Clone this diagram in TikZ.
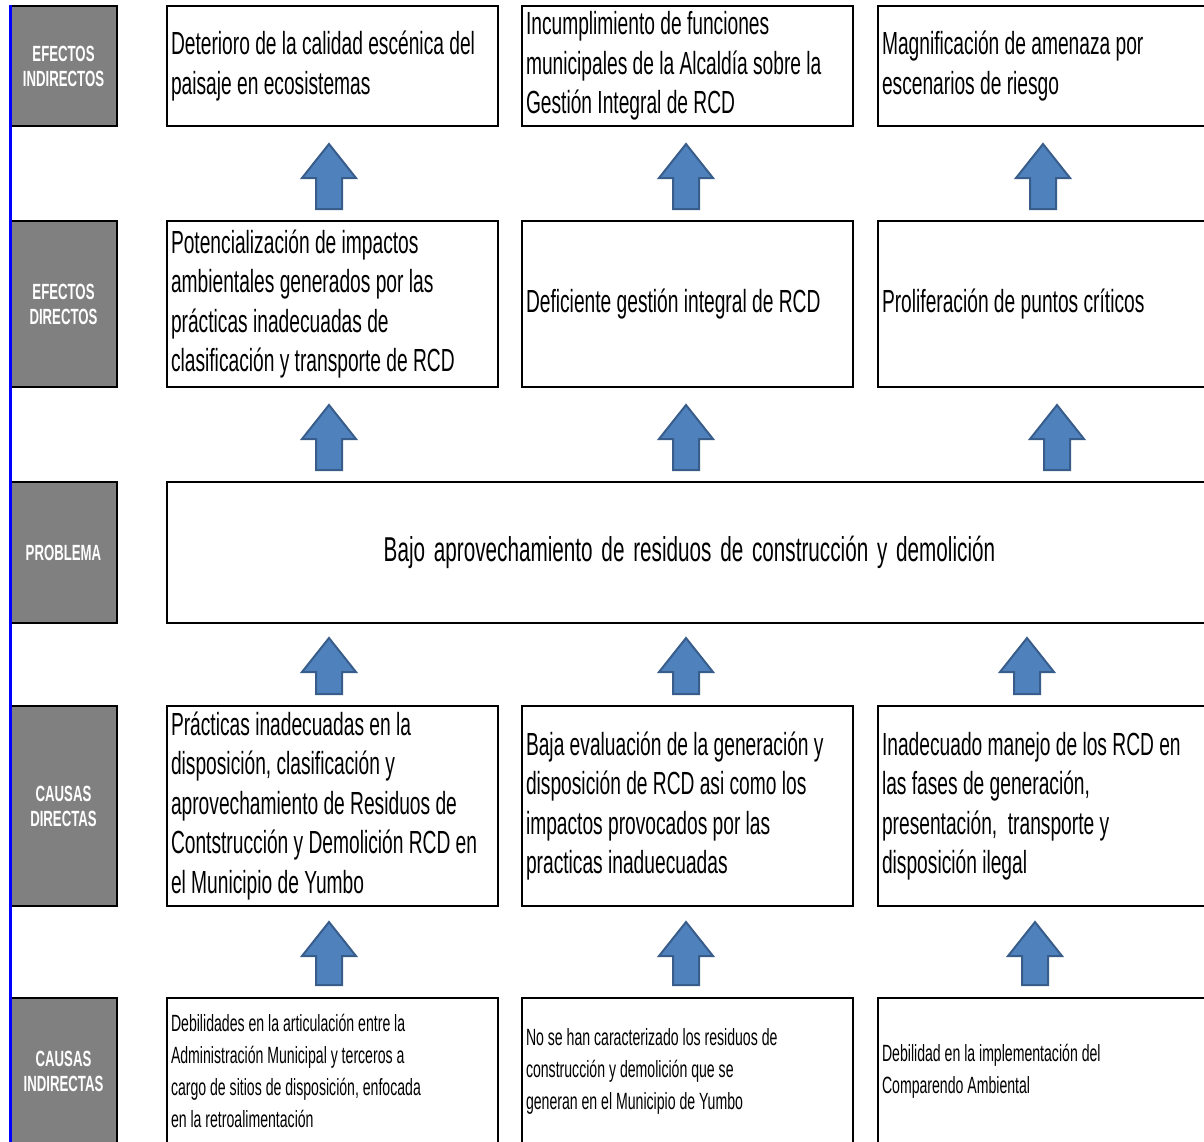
\documentclass[tikz,border=0pt]{standalone}
\usepackage{fontspec}
\setmainfont{Liberation Sans}[FakeStretch=0.6]
\usepackage{tikz}
\usetikzlibrary{positioning, calc}
\usepackage{xcolor}
\definecolor{arrowfill}{HTML}{4F81BD}
\definecolor{arrowline}{HTML}{385D8A}
\definecolor{labelgray}{HTML}{808080}
\definecolor{sideblue}{HTML}{0000FF}

% narrower word space to go with the stretched glyphs
\newcommand{\narrowsp}[1]{\spaceskip=#1 plus 1pt\relax\xspaceskip=#1 plus 1pt\relax}
% extra space after the last line (moves the text up or down in its box)
\newcommand{\boxend}[1]{\endgraf\vskip#1\relax}
% block arrow: x, tip y, base y
\newcommand{\blockup}[3]{\filldraw[blockarrow] (#1,#2) -- (#1+27,#2+34) -- (#1+13,#2+34) -- (#1+13,#3) -- (#1-13,#3) -- (#1-13,#2+34) -- (#1-27,#2+34) -- cycle;}

\begin{document}
\begin{tikzpicture}[
    x=1pt, y=-1pt,
    levelbox/.style = {rectangle, draw=black, line width=2.8pt, fill=labelgray, text=white, align=center, font=\bfseries\fontsize{22}{25}\selectfont, minimum width=107pt, inner sep=0pt},
    textbox/.style = {rectangle, draw=black, line width=2.8pt, align=left, font=\fontsize{32}{39.5}\selectfont, execute at begin node={\narrowsp{5.3pt}}, execute at end node={\boxend{-8pt}}, text width=323pt, inner xsep=4pt, inner ysep=0pt},
    smallbox/.style = {rectangle, draw=black, line width=2.8pt, align=left, font=\fontsize{23.5}{32}\selectfont, execute at begin node={\narrowsp{3.9pt}}, execute at end node={\boxend{6pt}}, text width=323pt, inner xsep=4pt, inner ysep=0pt},
    blockarrow/.style = {fill=arrowfill, draw=arrowline, line width=2pt, line join=miter}
]
\clip (0,0) rectangle (1204,1141);
\useasboundingbox (0,0) rectangle (1204,1141);

% Level labels
\node (lblEI) [levelbox, minimum height=120pt] at (63.5, 66) {EFECTOS\\INDIRECTOS};
\node (lblED) [levelbox, minimum height=166pt] at (63.5, 304) {EFECTOS\\DIRECTOS};
\node (lblPR) [levelbox, minimum height=141pt] at (63.5, 552.5) {PROBLEMA};
\node (lblCD) [levelbox, minimum height=200pt] at (63.5, 806) {CAUSAS\\DIRECTAS};
\node (lblCI) [levelbox, minimum height=146pt] at (63.5, 1071) {CAUSAS\\INDIRECTAS};
\draw [sideblue, line width=3pt] (10, 5) -- (10, 1145);

% Efectos indirectos
\node (ei1) [textbox, minimum height=120pt] at (332.5, 66) {Deterioro de la calidad escénica del\\paisaje en ecosistemas};
\node (ei2) [textbox, minimum height=120pt] at (687.5, 66) {Incumplimiento de funciones\\municipales de la Alcaldía sobre la\\Gestión Integral de RCD};
\node (ei3) [textbox, minimum height=120pt, text width=326pt] at (1045, 66) {Magnificación de amenaza por\\escenarios de riesgo};

% Efectos directos
\node (ed1) [textbox, minimum height=166pt] at (332.5, 304) {Potencialización de impactos\\ambientales generados por las\\prácticas inadecuadas de\\clasificación y transporte de RCD};
\node (ed2) [textbox, minimum height=166pt] at (687.5, 304) {Deficiente gestión integral de RCD};
\node (ed3) [textbox, minimum height=166pt, text width=326pt] at (1045, 304) {Proliferación de puntos críticos};

% Problema
\node (prob) [textbox, minimum height=141pt, text width=1037pt, align=center, font=\fontsize{34.5}{40}\selectfont, execute at begin node={\narrowsp{5.7pt}}] at (689.5, 552.5) {Bajo aprovechamiento de residuos de construcción y demolición};

% Causas directas
\node (cd1) [textbox, minimum height=200pt] at (332.5, 806) {Prácticas inadecuadas en la\\disposición, clasificación y\\aprovechamiento de Residuos de\\Contstrucción y Demolición RCD en\\el Municipio de Yumbo};
\node (cd2) [textbox, minimum height=200pt] at (687.5, 806) {Baja evaluación de la generación y\\disposición de RCD asi como los\\impactos provocados por las\\practicas inaduecuadas};
\node (cd3) [textbox, minimum height=200pt, text width=326pt] at (1045, 806) {Inadecuado manejo de los RCD en\\las fases de generación,\\presentación,\ \ transporte y\\disposición ilegal};

% Causas indirectas
\node (ci1) [smallbox, minimum height=146pt] at (332.5, 1071) {Debilidades en la articulación entre la\\Administración Municipal y terceros a\\cargo de sitios de disposición, enfocada\\en la retroalimentación};
\node (ci2) [smallbox, minimum height=146pt] at (687.5, 1071) {No se han caracterizado los residuos de\\construcción y demolición que se\\generan en el Municipio de Yumbo};
\node (ci3) [smallbox, minimum height=146pt, text width=326pt] at (1045, 1071) {Debilidad en la implementación del\\Comparendo Ambiental};

% Arrows
\blockup{329}{144}{209} \blockup{686}{144}{209} \blockup{1043}{144}{209}
\blockup{329}{405}{470} \blockup{686}{405}{470} \blockup{1057}{405}{470}
\blockup{329}{638}{694} \blockup{686}{638}{694} \blockup{1027}{638}{694}
\blockup{329}{922}{985} \blockup{686}{922}{985} \blockup{1035}{922}{985}

\end{tikzpicture}
\end{document}
